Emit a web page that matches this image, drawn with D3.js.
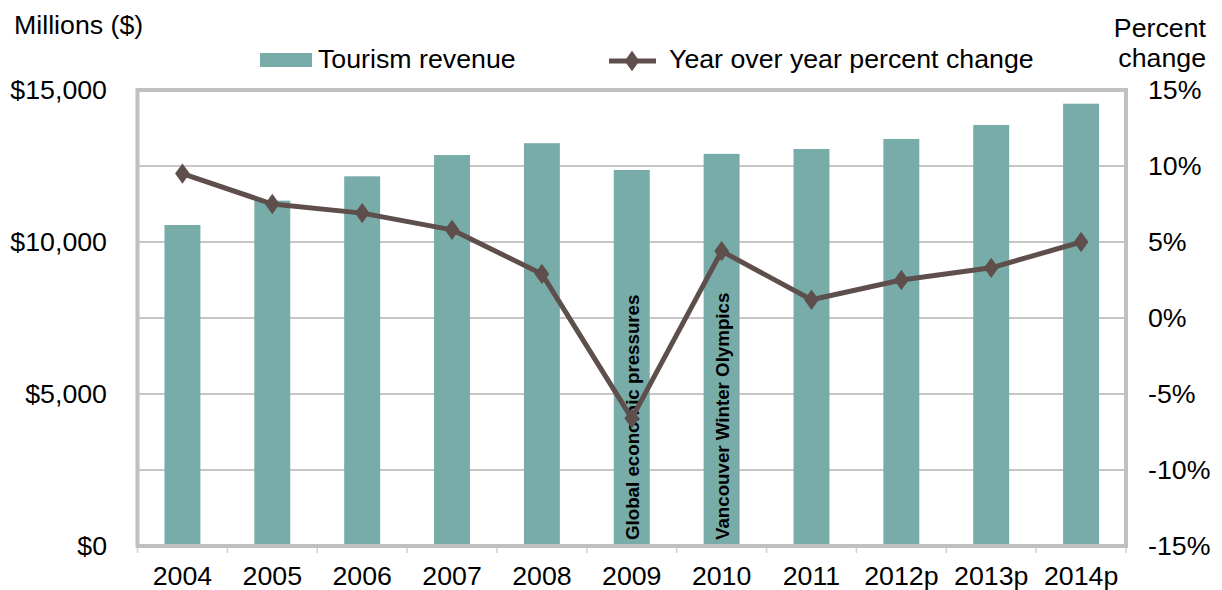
<!DOCTYPE html>
<html>
<head>
<meta charset="utf-8">
<script src="https://cdn.jsdelivr.net/npm/d3@7"></script>
<style>
  html, body { margin: 0; padding: 0; background: #fff; }
  svg text { font-family: "Liberation Sans", Arial, sans-serif; fill: #000; }
</style>
</head>
<body>
<svg id="chart" width="1222" height="590"></svg>
<script>
const categories = ["2004","2005","2006","2007","2008","2009","2010","2011","2012p","2013p","2014p"];
const revenue = [10560, 11360, 12160, 12860, 13250, 12370, 12900, 13060, 13390, 13850, 14550];
const pctChange = [9.5, 7.5, 6.9, 5.8, 2.9, -6.6, 4.4, 1.2, 2.5, 3.3, 5.0];
const leftTicks = [0, 5000, 10000, 15000];
const leftGrid = [2500, 5000, 7500, 10000, 12500];
const rightTicks = [-15, -10, -5, 0, 5, 10, 15];
const annotations = [
  { category: "2009", text: "Global economic pressures" },
  { category: "2010", text: "Vancouver Winter Olympics" }
];

const svg = d3.select("#chart");
const m = { left: 137.5, right: 1126, top: 90, bottom: 546 };
const barColor = "#77aca9";
const lineColor = "#5e4f4d";
const SX = 1.07; // horizontal glyph stretch seen in the reference
const tf = (px, py) => `translate(${px},${py}) scale(${SX},1)`;

const x = d3.scaleBand().domain(categories).range([m.left, m.right]).paddingInner(0.6).paddingOuter(0.3);
const xc = d => x(d) + x.bandwidth() / 2;
const yL = d3.scaleLinear().domain([0, 15000]).range([m.bottom, m.top]);
const yR = d3.scaleLinear().domain([-15, 15]).range([m.bottom, m.top]);

// gridlines
svg.append("g").selectAll("line").data(leftGrid).join("line")
  .attr("x1", m.left).attr("x2", m.right)
  .attr("y1", d => yL(d)).attr("y2", d => yL(d))
  .attr("stroke", "#c6c6c6").attr("stroke-width", 2);

// bars
svg.append("g").selectAll("rect").data(categories).join("rect")
  .attr("x", d => x(d)).attr("width", x.bandwidth())
  .attr("y", (d, i) => yL(revenue[i]))
  .attr("height", (d, i) => yL(0) - yL(revenue[i]))
  .attr("fill", barColor);

// x tick marks at band boundaries
const step = x.step();
const bounds = d3.range(categories.length + 1).map(i => m.left + i * step);
svg.append("g").selectAll("line").data(bounds).join("line")
  .attr("x1", d => d).attr("x2", d => d)
  .attr("y1", m.bottom).attr("y2", m.bottom + 7)
  .attr("stroke", "#d0d0d0").attr("stroke-width", 1.5);

// frame
svg.append("rect")
  .attr("x", m.left).attr("y", m.top)
  .attr("width", m.right - m.left).attr("height", m.bottom - m.top)
  .attr("fill", "none").attr("stroke", "#c0c0c0").attr("stroke-width", 4);

// annotations
svg.append("g").selectAll("text").data(annotations).join("text")
  .attr("transform", d => `translate(${xc(d.category) + 7},${m.bottom - 6}) rotate(-90) scale(${SX},1)`)
  .attr("text-anchor", "start")
  .style("font-size", "17.5px").style("font-weight", "bold")
  .text(d => d.text);

// line
const line = d3.line().x((d, i) => xc(categories[i])).y(d => yR(d));
svg.append("path").datum(pctChange)
  .attr("d", line).attr("fill", "none")
  .attr("stroke", lineColor).attr("stroke-width", 5).attr("stroke-linejoin", "round");
const diamond = d3.symbol().type(d3.symbolDiamond).size(120);
svg.append("g").selectAll("path").data(pctChange).join("path")
  .attr("d", diamond)
  .attr("transform", (d, i) => `translate(${xc(categories[i])},${yR(d)}) scale(1.25,1)`)
  .attr("fill", lineColor);

// left axis labels
const fmtL = d => "$" + d3.format(",")(d);
svg.append("g").selectAll("text").data(leftTicks).join("text")
  .attr("transform", d => tf(107, yL(d))).attr("dy", "0.36em")
  .attr("text-anchor", "end").style("font-size", "25px")
  .text(fmtL);

// right axis labels
svg.append("g").selectAll("text").data(rightTicks).join("text")
  .attr("transform", d => tf(1148, yR(d))).attr("dy", "0.36em")
  .attr("text-anchor", "start").style("font-size", "25px")
  .text(d => d + "%");

// x labels
svg.append("g").selectAll("text").data(categories).join("text")
  .attr("transform", d => tf(xc(d), 585))
  .attr("text-anchor", "middle").style("font-size", "25px")
  .text(d => d);

// axis titles
svg.append("text").attr("transform", tf(14, 34)).style("font-size", "25px").text("Millions ($)");
svg.append("text").attr("transform", tf(1206, 37)).attr("text-anchor", "end").style("font-size", "25px").text("Percent");
svg.append("text").attr("transform", tf(1206, 67)).attr("text-anchor", "end").style("font-size", "25px").text("change");

// legend
const lg = svg.append("g");
lg.append("rect").attr("x", 260).attr("y", 53).attr("width", 52).attr("height", 14).attr("fill", barColor);
lg.append("text").attr("transform", tf(318, 68)).style("font-size", "25px").text("Tourism revenue");
lg.append("line").attr("x1", 609).attr("x2", 656).attr("y1", 61).attr("y2", 61)
  .attr("stroke", lineColor).attr("stroke-width", 5);
lg.append("path").attr("d", diamond).attr("transform", "translate(632,61) scale(1.25,1)").attr("fill", lineColor);
lg.append("text").attr("transform", tf(669, 68)).style("font-size", "25px").text("Year over year percent change");
</script>
</body>
</html>
